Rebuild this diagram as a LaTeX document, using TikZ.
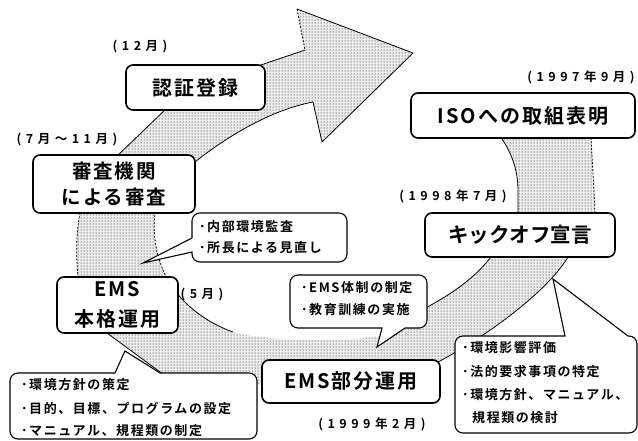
\documentclass[tikz,border=0pt]{standalone}
\usepackage{fontspec}
\usetikzlibrary{patterns}
\newfontfamily\fbig{Noto Sans CJK JP Bold}[LetterSpace=10]
\newfontfamily\fkick{Noto Sans CJK JP Bold}
\newfontfamily\fdate{Noto Sans CJK JP Bold}[LetterSpace=36]
\newfontfamily\fsmall{Noto Sans CJK JP Bold}[LetterSpace=12]
\begin{document}
\begin{tikzpicture}[x=1pt,y=-1pt,
  mainbox/.style={draw, line width=1.6pt, rounded corners=7pt, fill=white, inner sep=0pt, align=center},
  callbox/.style={draw, line width=1.1pt, fill=white},
  band/.style={pattern=dots, pattern color=black},
  bedge/.style={line width=0.8pt},
  bdash/.style={line width=0.8pt, dash pattern=on 2pt off 1.5pt},
  datelbl/.style={font=\fdate\fontsize{12.5}{14}\selectfont, inner sep=0pt},
  ctext/.style={font=\fsmall\fontsize{13}{15}\selectfont, inner sep=0pt, anchor=west}]
\useasboundingbox (0,0) rectangle (638,440);

% spiral band
\def\bandpath{(500,136) .. controls (510,150) and (518,168) .. (518,190) -- (518,216)
 -- (491,257) .. controls (465,290) and (430,305) .. (400,322)
 -- (380,336) .. controls (340,342) and (270,342) .. (233,332)
 .. controls (205,322) and (185,305) .. (172,287)
 .. controls (158,265) and (152,240) .. (155,213)
 -- (195,162) .. controls (225,138) and (270,110) .. (313,102)
 -- (322,142) -- (413,53) -- (297,9) -- (305,50)
 -- (255,67) -- (168,107) -- (115,158) -- (81,210) -- (80,213)
 .. controls (76,235) and (76,255) .. (78,277)
 -- (107,333) -- (175,383) -- (265,385) -- (438,362)
 .. controls (480,340) and (545,295) .. (568,257)
 -- (595,213) .. controls (594,185) and (592,160) .. (591,136) -- cycle}
\fill[black!7] \bandpath;
\fill[band] \bandpath;

\draw[bedge] (500,136) .. controls (510,150) and (518,168) .. (518,190) -- (518,216);
\draw[bdash] (595,213) .. controls (594,185) and (592,160) .. (591,136);
\draw[bedge] (491,257) .. controls (465,290) and (430,305) .. (400,322);
\draw[bedge] (233,332) .. controls (205,322) and (185,305) .. (172,287);
\draw[bdash] (172,287) .. controls (158,265) and (152,240) .. (155,213);
\draw[bedge] (195,162) .. controls (225,138) and (270,110) .. (313,102) -- (322,142) -- (413,53) -- (297,9);
\draw[bdash] (297,9) -- (305,50);
\draw[bedge] (305,50) -- (255,67);
\draw[bedge] (168,107) -- (115,158);
\draw[bdash] (80,213) .. controls (76,235) and (76,255) .. (78,277);
\draw[bedge] (107,333) -- (175,383);
\draw[bedge] (438,362) .. controls (480,340) and (545,295) .. (568,257);

% main boxes
\node[mainbox, minimum width=139pt, minimum height=45pt, font=\fbig\fontsize{20}{24}\selectfont] (cert) at (195.5,87.5) {認証登録};
\node[mainbox, minimum width=162pt, minimum height=58pt, font=\fbig\fontsize{19.5}{26}\selectfont] (shinsa) at (114,184) {審査機関\\による審査};
\node[mainbox, minimum width=224pt, minimum height=45pt, font=\fbig\fontsize{20}{24}\selectfont] (iso) at (523,115.5) {ISOへの取組表明};
\node[mainbox, minimum width=190pt, minimum height=44pt, font=\fkick\fontsize{20.5}{24}\selectfont] (kick) at (520,235) {キックオフ宣言};
\node[mainbox, minimum width=178pt, minimum height=43pt, font=\fbig\fontsize{20}{24}\selectfont] (bubun) at (351,381.5) {EMS部分運用};
\node[mainbox, minimum width=121pt, minimum height=56pt, font=\fbig\fontsize{20}{30}\selectfont] (honkaku) at (117.5,305) {EMS\\本格運用};

% callouts
\draw[callbox] (143,263) -- (192,238) [rounded corners=8pt] -- (192,213) -- (347,213) -- (347,262) -- (192,262) [sharp corners] -- (192,252) -- cycle;
\draw[callbox] (377,347) -- (405,328) [rounded corners=8pt] -- (427,328) -- (427,275) -- (290,275) -- (290,328) [sharp corners] -- (382,328) -- cycle;
\draw[callbox] (125,351) -- (160,373) [rounded corners=8pt] -- (257,373) -- (257,439) -- (10,439) -- (10,373) [sharp corners] -- (115,373) -- cycle;
\draw[callbox] (553,279) -- (628,336) [rounded corners=8pt] -- (637,336) -- (637,433) -- (455,433) -- (455,336) [sharp corners] -- (565,336) -- cycle;

\node[ctext] (n1) at (199,227) {･内部環境監査};
\node[ctext] (n2) at (199,248) {･所長による見直し};
\node[ctext] (t1) at (301,288) {･EMS体制の制定};
\node[ctext] (t2) at (301,310) {･教育訓練の実施};
\node[ctext] (l1) at (21,385) {･環境方針の策定};
\node[ctext] (l2) at (21,409) {･目的、目標、プログラムの設定};
\node[ctext] (l3) at (21,431) {･マニュアル、規程類の制定};
\node[ctext] (r1) at (462,348) {･環境影響評価};
\node[ctext] (r2) at (462,372) {･法的要求事項の特定};
\node[ctext] (r3) at (462,395) {･環境方針、マニュアル、};
\node[ctext] (r4) at (472,418) {規程類の検討};

% dates
\node[datelbl] (d1) at (140,47) {(12月)};
\node[datelbl] (d2) at (67,140) {(7月～11月)};
\node[datelbl] (d3) at (581,77) {(1997年9月)};
\node[datelbl] (d4) at (453,196) {(1998年7月)};
\node[datelbl] (d5) at (202,295) {(5月)};
\node[datelbl] (d6) at (372,424) {(1999年2月)};
\end{tikzpicture}
\end{document}
